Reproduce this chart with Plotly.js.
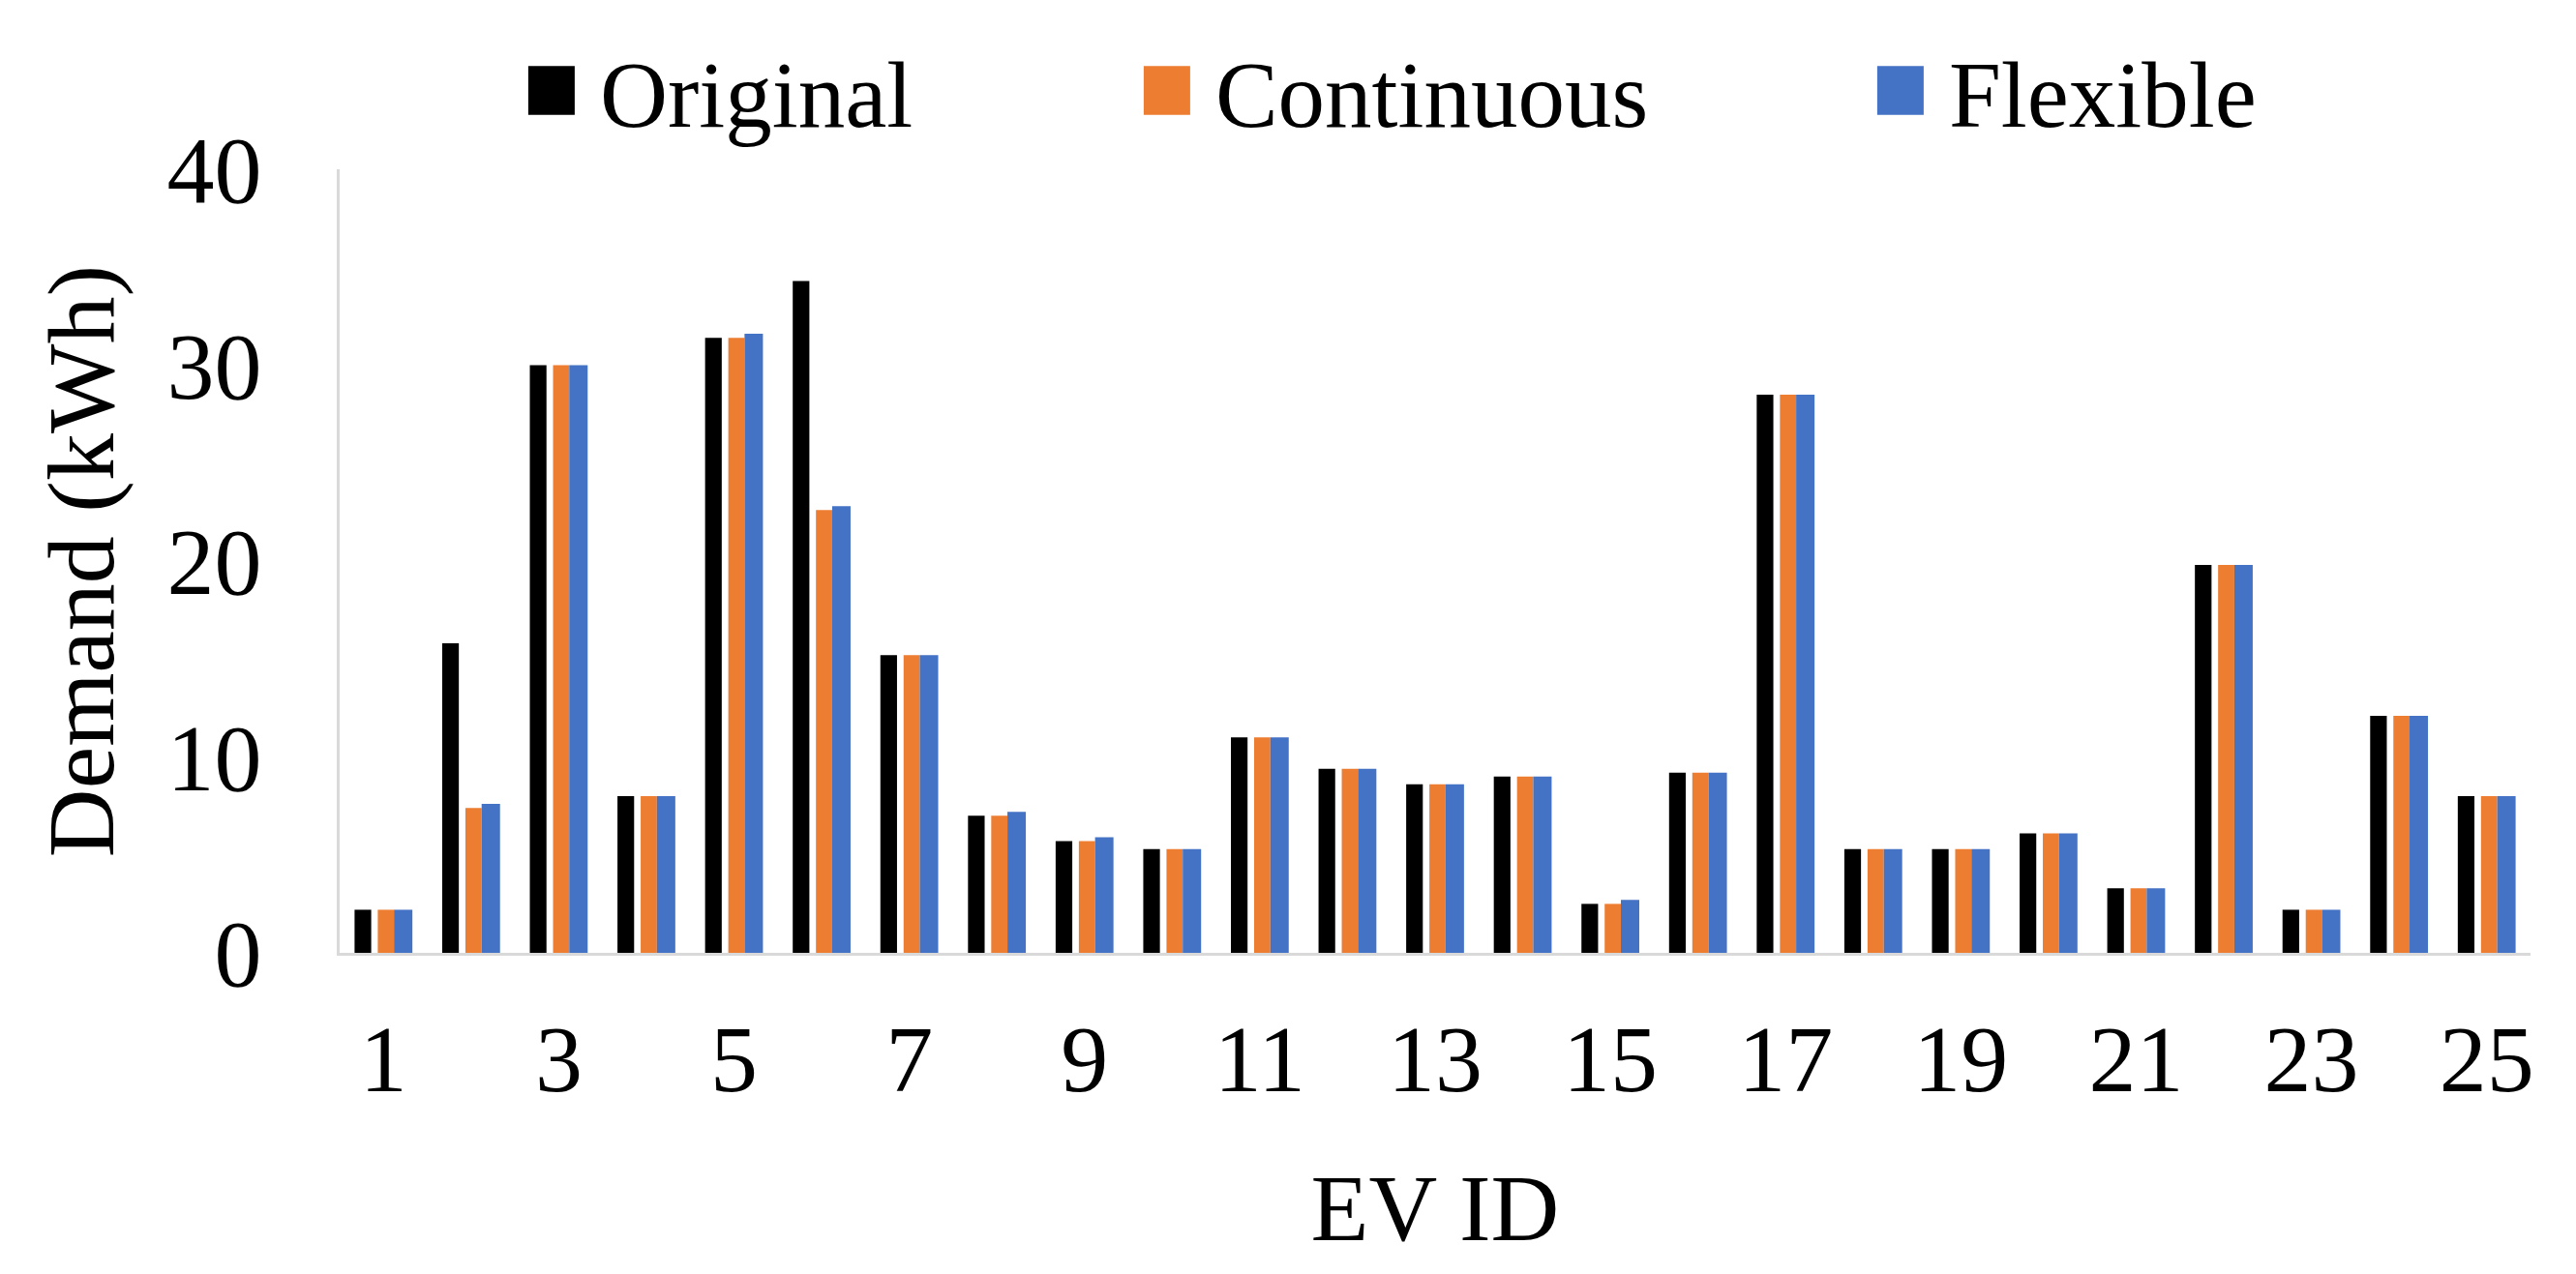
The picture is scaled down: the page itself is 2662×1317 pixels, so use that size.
<!DOCTYPE html>
<html>
<head>
<meta charset="utf-8">
<script src="https://cdn.plot.ly/plotly-3.0.1.min.js"></script>
<style>
  html, body { margin: 0; padding: 0; background: #ffffff; }
  #chart { width: 2662px; height: 1317px; }
</style>
</head>
<body>
<div id="chart"></div>
<script>
// ---- data ----
const evIds = [1,2,3,4,5,6,7,8,9,10,11,12,13,14,15,16,17,18,19,20,21,22,23,24,25];
const original   = [2.2, 15.8, 30.0, 8.0, 31.4, 34.3, 15.2, 7.0, 5.7, 5.3, 11.0, 9.4, 8.6, 9.0, 2.5, 9.2, 28.5, 5.3, 5.3, 6.1, 3.3, 19.8, 2.2, 12.1, 8.0];
const continuous = [2.2, 7.4, 30.0, 8.0, 31.4, 22.6, 15.2, 7.0, 5.7, 5.3, 11.0, 9.4, 8.6, 9.0, 2.5, 9.2, 28.5, 5.3, 5.3, 6.1, 3.3, 19.8, 2.2, 12.1, 8.0];
const flexible   = [2.2, 7.6, 30.0, 8.0, 31.6, 22.8, 15.2, 7.2, 5.9, 5.3, 11.0, 9.4, 8.6, 9.0, 2.7, 9.2, 28.5, 5.3, 5.3, 6.1, 3.3, 19.8, 2.2, 12.1, 8.0];
const tickIds = [1,3,5,7,9,11,13,15,17,19,21,23,25];
const tickText = tickIds.map(String);
const seriesNames = ['Original', 'Continuous', 'Flexible'];
const seriesColors = ['#000000', '#ED7D31', '#4472C4'];

const FONT = 'Liberation Serif, Times New Roman, serif';

const traces = [
  { type: 'bar', name: seriesNames[0], x: evIds, y: original,
    marker: { color: seriesColors[0] }, offset: -0.33, width: 0.19, legendwidth: 531 },
  { type: 'bar', name: seriesNames[1], x: evIds, y: continuous,
    marker: { color: seriesColors[1] }, offset: -0.065, width: 0.185, legendwidth: 653 },
  { type: 'bar', name: seriesNames[2], x: evIds, y: flexible,
    marker: { color: seriesColors[2] }, offset: 0.12, width: 0.21 }
];

const layout = {
  width: 2662, height: 1317,
  paper_bgcolor: '#ffffff', plot_bgcolor: '#ffffff',
  margin: { l: 351, r: 47, t: 175, b: 332 },
  font: { family: FONT, color: '#000000', size: 97 },
  barmode: 'group',
  showlegend: true,
  legend: {
    orientation: 'h', x: 0.0746, xanchor: 'left', y: 1.1, yanchor: 'middle',
    font: { family: FONT, size: 97, color: '#000000' },
    itemwidth: 90, traceorder: 'normal', bgcolor: 'rgba(0,0,0,0)'
  },
  xaxis: {
    range: [0.5, 25.5], tickmode: 'array', tickvals: tickIds, ticktext: tickText,
    showline: true, linecolor: '#d9d9d9', linewidth: 3, showgrid: false, zeroline: false,
    ticks: '', ticklabelstandoff: 22,
    tickfont: { family: FONT, size: 98, color: '#000000' },
    title: { text: 'EV ID', font: { family: FONT, size: 98, color: '#000000' }, standoff: 66 }
  },
  yaxis: {
    range: [0, 40], dtick: 10, tick0: 0,
    showline: true, linecolor: '#d9d9d9', linewidth: 3, showgrid: false, zeroline: false,
    ticks: '', ticklabelstandoff: 58,
    tickfont: { family: FONT, size: 98, color: '#000000' },
    title: { text: 'Demand (kWh)', font: { family: FONT, size: 98, color: '#000000' }, standoff: 23 }
  }
};

Plotly.newPlot('chart', traces, layout, { displayModeBar: false, responsive: false }).then(function () {
  document.querySelectorAll('#chart .legend .legendpoints path').forEach(function (p) {
    var t = p.getAttribute('transform') || '';
    p.setAttribute('transform', t + ' scale(4,4.2)');
  });
});
</script>
</body>
</html>
